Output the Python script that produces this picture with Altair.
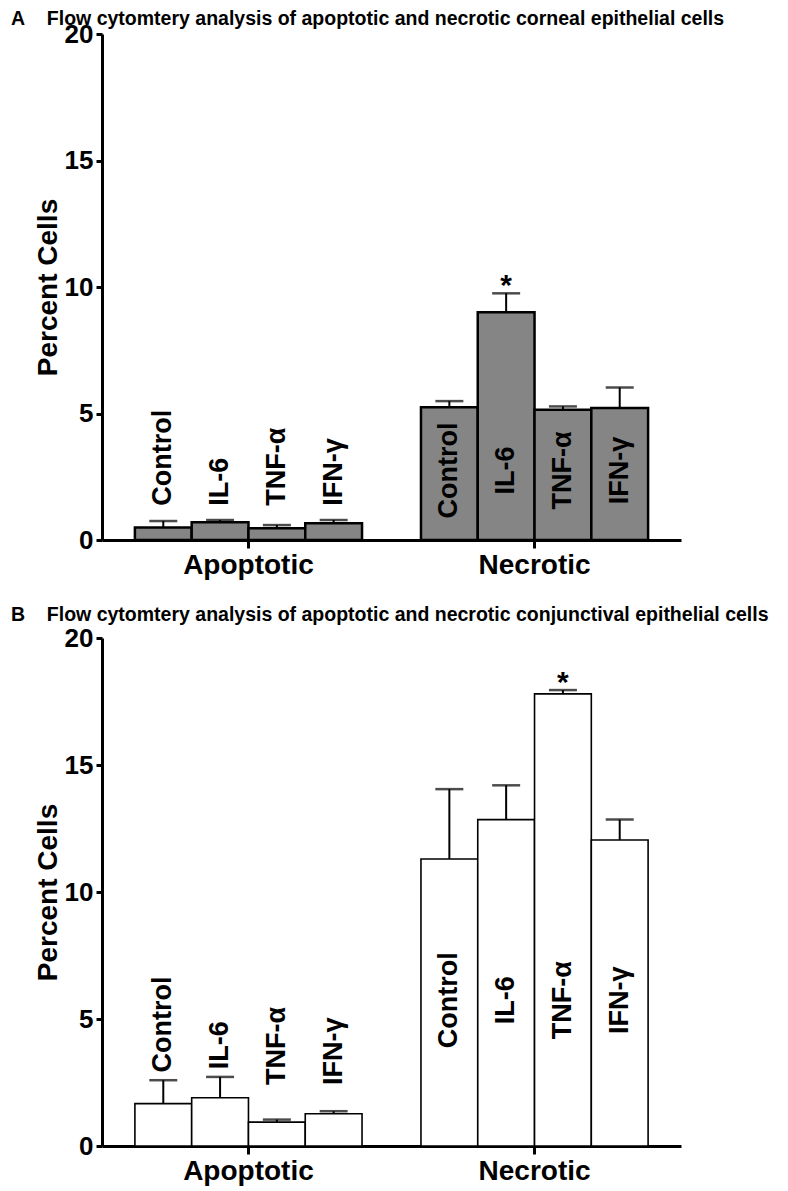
import altair as alt
import pandas as pd

# ---- data ----
groups = ["Apoptotic"] * 4 + ["Necrotic"] * 4
treatments = ["Control", "IL-6", "TNF-α", "IFN-γ"] * 2
treat_order = ["Control", "IL-6", "TNF-α", "IFN-γ"]

# Panel A: corneal epithelial cells
a_mean = [0.49, 0.70, 0.46, 0.66, 5.25, 9.00, 5.15, 5.22]
a_err_top = [0.75, 0.79, 0.59, 0.79, 5.49, 9.75, 5.28, 6.03]
a_sig = ["", "", "", "", "", "*", "", ""]

# Panel B: conjunctival epithelial cells
b_mean = [1.67, 1.90, 0.94, 1.27, 11.30, 12.85, 17.80, 12.05]
b_err_top = [2.59, 2.72, 1.04, 1.37, 14.05, 14.20, 17.95, 12.85]
b_sig = ["", "", "", "", "", "", "*", ""]

y_ticks = [0, 5, 10, 15, 20]

FONT = "Liberation Sans"
YTITLE = "Percent Cells"


def panel(title, means, errs, sigs, fill, stroke_w, apo_min, nec_pos, t_offset, h):
    df = pd.DataFrame({"group": groups, "treatment": treatments,
                       "mean": means, "err": errs, "sig": sigs})
    base = alt.Chart(df).encode(
        x=alt.X("group:N", sort=["Apoptotic", "Necrotic"],
                scale=alt.Scale(paddingInner=0.206, paddingOuter=0.115),
                axis=alt.Axis(title=None, labelAngle=0, labelFontSize=28,
                              labelFont=FONT, labelFontWeight="bold",
                              tickSize=8, tickWidth=3, labelPadding=3,
                              domainWidth=3, labelColor="black",
                              domainColor="black", tickColor="black")),
        xOffset=alt.XOffset("treatment:N", sort=treat_order,
                            scale=alt.Scale(paddingInner=0, paddingOuter=0)),
    )
    yscale = alt.Scale(domain=[0, 20], nice=False)
    bars = base.mark_bar(fill=fill, stroke="black", strokeWidth=stroke_w).encode(
        y=alt.Y("mean:Q", scale=yscale, title=YTITLE,
                axis=alt.Axis(values=y_ticks, grid=False, labelFontSize=26,
                              labelFont=FONT, labelFontWeight="bold",
                              titleFont=FONT, titleFontWeight="bold",
                              titleFontSize=28, titlePadding=2,
                              tickSize=6, tickWidth=3, domainWidth=3,
                              labelPadding=3, labelColor="black",
                              titleColor="black", domainColor="black",
                              tickColor="black"))
    )
    stem = base.mark_rule(color="black", strokeWidth=2).encode(
        y=alt.Y("mean:Q", scale=yscale, title=YTITLE), y2="err:Q")
    cap = base.mark_tick(color="black", thickness=2.5, size=28).encode(
        y=alt.Y("err:Q", scale=yscale, title=YTITLE))
    star = base.mark_text(fontSize=30, fontWeight="bold", font=FONT,
                          baseline="bottom", dy=8, color="black").encode(
        y=alt.Y("err:Q", scale=yscale, title=YTITLE), text="sig:N")
    apo_lbl = base.transform_filter(alt.datum.group == "Apoptotic").transform_calculate(
        lpos=f"max(datum.err + 0.3, {apo_min})").mark_text(
        angle=270, align="left", baseline="middle", fontSize=27,
        fontWeight="bold", font=FONT, color="black").encode(
        y=alt.Y("lpos:Q", scale=yscale, title=YTITLE), text="treatment:N")
    nec_lbl = base.transform_filter(alt.datum.group == "Necrotic").mark_text(
        angle=270, align="center", baseline="middle", fontSize=27,
        fontWeight="bold", font=FONT, color="black").encode(
        y=alt.Y(datum=nec_pos, scale=yscale, title=YTITLE), text="treatment:N")
    return alt.layer(bars, stem, cap, star, apo_lbl, nec_lbl).properties(
        width=579, height=h,
        title=alt.TitleParams(title, anchor="start", dx=-23, fontSize=19.5,
                              font=FONT, fontWeight="bold",
                              color="black", offset=t_offset),
    )


pa = panel("A\u00a0\u00a0\u00a0\u00a0Flow cytomtery analysis of apoptotic and necrotic corneal epithelial cells",
           a_mean, a_err_top, a_sig, "#858585", 2.5, 1.35, 2.75, -8, 506)
pb = panel("B\u00a0\u00a0\u00a0\u00a0Flow cytomtery analysis of apoptotic and necrotic conjunctival epithelial cells",
           b_mean, b_err_top, b_sig, "white", 1.6, 2.4, 5.74, 0, 508)

chart = alt.vconcat(pa, pb, spacing=25).properties(
    padding={"left": 3, "top": 0, "right": 2, "bottom": 5}
).configure_view(stroke=None)

chart.save("out.html", embed_options={"renderer": "svg", "actions": False})
